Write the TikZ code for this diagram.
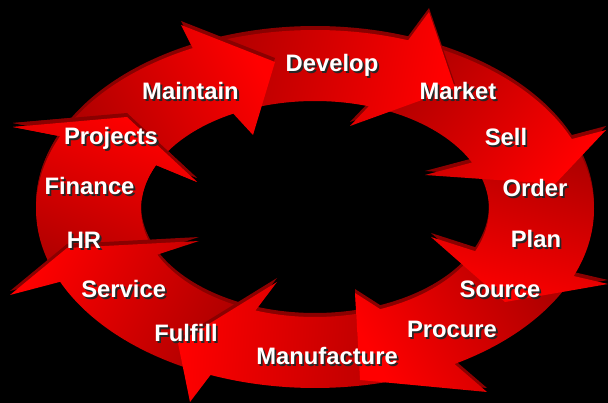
\documentclass[tikz,border=0pt]{standalone}
\usepackage{fontspec}
\setsansfont{Liberation Sans}
\definecolor{redhi}{HTML}{FF0000}
\definecolor{redlo}{HTML}{B00000}
\definecolor{redex}{HTML}{8A0000}
\tikzset{
  extr/.style={fill=redex},
  arrowfill/.style={top color=redhi, bottom color=redlo, shading angle=#1},
  lbltxt/.style={font=\sffamily\bfseries\fontsize{23.8}{24}\selectfont, text=white, inner sep=0pt, anchor=base}
}
% tail angle, outer neck angle, inner neck angle, outer barb, tip, inner barb, shading angle
\newcommand{\ringarrow}[7]{%
  \fill[extr,shift={(0,-4)}] plot[domain=#1:#2,samples=40] ({315+279*cos(\x)},{209+179*sin(\x)}) -- #4 -- #5 -- #6 -- plot[domain=#3:#1,samples=40] ({315+174*cos(\x)},{209+108*sin(\x)}) -- cycle;
  \shade[arrowfill=#7] plot[domain=#1:#2,samples=40] ({315+279*cos(\x)},{209+179*sin(\x)}) -- #4 -- #5 -- #6 -- plot[domain=#3:#1,samples=40] ({315+174*cos(\x)},{209+108*sin(\x)}) -- cycle;
}
% label with a dark drop shadow set inside the same node
\newcommand{\arrowlabel}[4]{%
  \node[lbltxt] (#1) at (#2,#3) {\rlap{\kern1.8pt\raisebox{-1.8pt}{\textcolor{black!85}{#4}}}#4};
}
\begin{document}
\begin{tikzpicture}[x=1pt,y=-1pt]
\useasboundingbox (0,0) rectangle (608,403);
\fill[black] (0,0) rectangle (608,403);
\clip (0,0) rectangle (608,403);
% arrows, drawn so that each head lies over the next tail
\ringarrow{159}{204}{204}{(13,127)}{(127,117)}{(197,182)}{-22.4}
\ringarrow{116}{156}{155}{(10,295)}{(67,248)}{(199,241)}{63.3}
\ringarrow{68}{112}{110}{(190,402)}{(178,343)}{(277,282)}{85.6}
\ringarrow{27}{60}{68}{(487,392)}{(360,380)}{(355,293)}{119}
\ringarrow{341}{382}{383}{(608,284)}{(505,302)}{(431,237)}{164}
\ringarrow{293}{337}{334.5}{(606,130)}{(555,184)}{(425,175)}{-129}
\ringarrow{247}{289.5}{288}{(429,12)}{(455,88)}{(350,126)}{-102}
\ringarrow{206}{244}{242}{(181,25)}{(275,62)}{(253,135)}{-63}
\begin{scope}
  \clip (0,90) rectangle (215,200);
  \ringarrow{159}{204}{204}{(13,127)}{(127,117)}{(197,182)}{-22.4}
\end{scope}
% labels
\arrowlabel{develop}{332}{72}{Develop}
\arrowlabel{maintain}{190.5}{100}{Maintain}
\arrowlabel{market}{458}{100}{Market}
\arrowlabel{projects}{111}{145}{Projects}
\arrowlabel{sell}{506}{145.5}{Sell}
\arrowlabel{finance}{89.5}{195}{Finance}
\arrowlabel{order}{535}{196.5}{Order}
\arrowlabel{hr}{84}{249}{HR}
\arrowlabel{plan}{536}{248}{Plan}
\arrowlabel{service}{123.7}{298}{Service}
\arrowlabel{source}{500}{298}{Source}
\arrowlabel{fulfill}{186}{341.5}{Fulfill}
\arrowlabel{procure}{452}{338}{Procure}
\arrowlabel{manufacture}{327}{365}{Manufacture}
\end{tikzpicture}
\end{document}
